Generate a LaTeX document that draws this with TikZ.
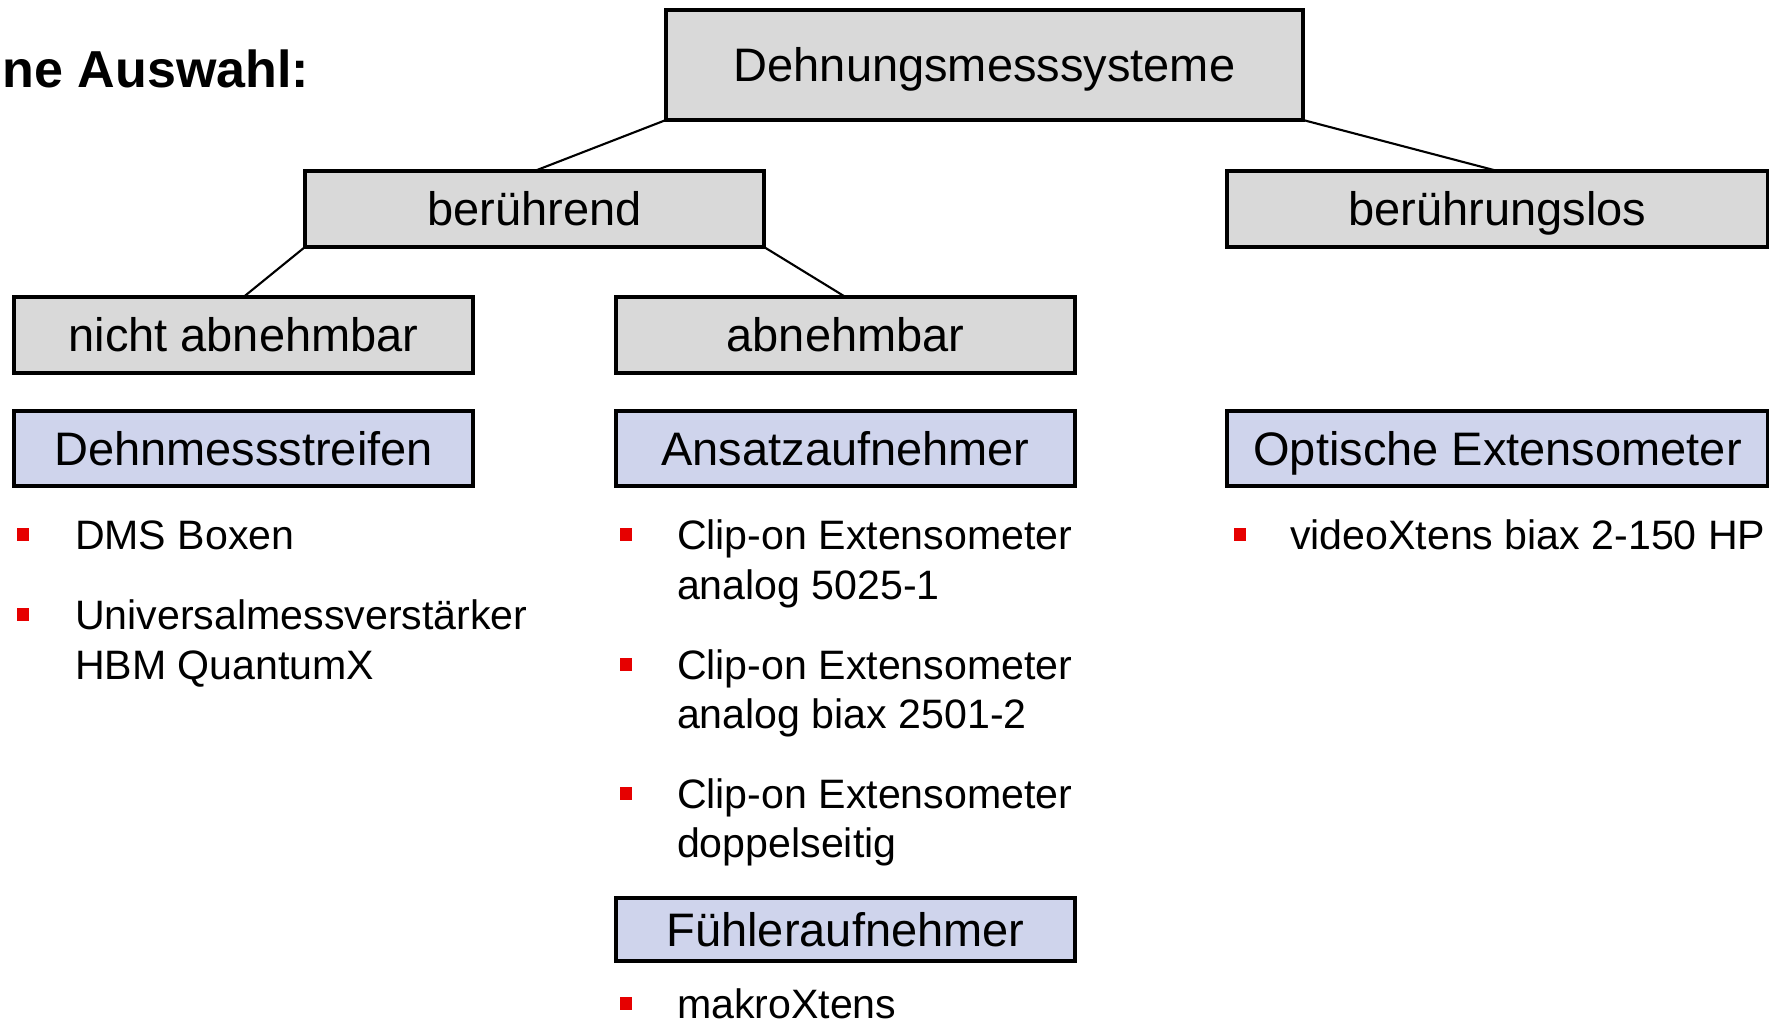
\documentclass[tikz,border=0pt]{standalone}
\usepackage{fontspec}
\setmainfont{Liberation Sans}
\definecolor{boxgray}{HTML}{D9D9D9}
\definecolor{boxblue}{HTML}{CFD4EC}
\definecolor{bulletred}{HTML}{E60000}
\newcommand{\twoline}[2]{\begin{tabular}[t]{@{}l@{}}#1\\#2\end{tabular}}
\begin{document}
\begin{tikzpicture}[x=0.1mm,y=-0.1mm,
  catbox/.style={draw=black, line width=1pt, fill=boxgray, rectangle, inner sep=0pt, outer sep=0pt,
    font=\fontsize{13.37pt}{16pt}\selectfont, text height=0.95em, text depth=0pt},
  typebox/.style={catbox, fill=boxblue},
  link/.style={draw=black, line width=0.6pt},
  itemtext/.style={anchor=base west, inner sep=0pt, outer sep=0pt, font=\fontsize{11.7pt}{14.08pt}\selectfont},
  bulletsq/.style={fill=bulletred, draw=none, rectangle, inner sep=0pt, minimum width=1.2mm, minimum height=1.3mm}
]
\useasboundingbox (0,0) rectangle (1769,1022);

% title
\node[anchor=base west, inner sep=0pt, font=\bfseries\fontsize{14.8pt}{18pt}\selectfont] (title) at (2,88) {ne Auswahl:};

% hierarchy boxes
\node[catbox, minimum width=63.7mm, minimum height=11mm] (root) at (984.5,65) {Dehnungsmesssysteme};
\node[catbox, minimum width=45.9mm, minimum height=7.6mm] (beru) at (534.5,209) {berührend};
\node[catbox, minimum width=54.1mm, minimum height=7.6mm] (los) at (1497.5,209) {berührungslos};
\node[catbox, minimum width=45.9mm, minimum height=7.6mm] (nicht) at (243.5,335) {nicht abnehmbar};
\node[catbox, minimum width=45.9mm, minimum height=7.6mm] (abn) at (845.5,335) {abnehmbar};

% type boxes
\node[typebox, minimum width=45.9mm, minimum height=7.5mm] (dms) at (243.5,448.5) {Dehnmessstreifen};
\node[typebox, minimum width=45.9mm, minimum height=7.5mm] (ansatz) at (845.5,448.5) {Ansatzaufnehmer};
\node[typebox, minimum width=54.1mm, minimum height=7.5mm] (opt) at (1497.5,448.5) {Optische Extensometer};
\node[typebox, minimum width=45.9mm, minimum height=6.3mm] (fuehl) at (845.5,929.5) {Fühleraufnehmer};

% connectors
\draw[link] (root.south west) -- (beru.north);
\draw[link] (root.south east) -- (los.north);
\draw[link] (beru.south west) -- (nicht.north);
\draw[link] (beru.south east) -- (abn.north);

% left column items
\node[bulletsq] (b1) at (23,535) {};
\node[itemtext] (i1) at (75,550) {DMS Boxen};
\node[bulletsq] (b2) at (23,615) {};
\node[itemtext] (i2) at (75,630) {\twoline{Universalmessverstärker}{HBM QuantumX}};

% middle column items
\node[bulletsq] (b3) at (626,535) {};
\node[itemtext] (i3) at (677,550) {\twoline{Clip-on Extensometer}{analog 5025-1}};
\node[bulletsq] (b4) at (626,664) {};
\node[itemtext] (i4) at (677,679) {\twoline{Clip-on Extensometer}{analog biax 2501-2}};
\node[bulletsq] (b5) at (626,793) {};
\node[itemtext] (i5) at (677,808) {\twoline{Clip-on Extensometer}{doppelseitig}};
\node[bulletsq] (b6) at (626,1003) {};
\node[itemtext] (i6) at (677,1018) {makroXtens};

% right column items
\node[bulletsq] (b7) at (1240,535) {};
\node[itemtext] (i7) at (1290,550) {videoXtens biax 2-150 HP};
\end{tikzpicture}
\end{document}
